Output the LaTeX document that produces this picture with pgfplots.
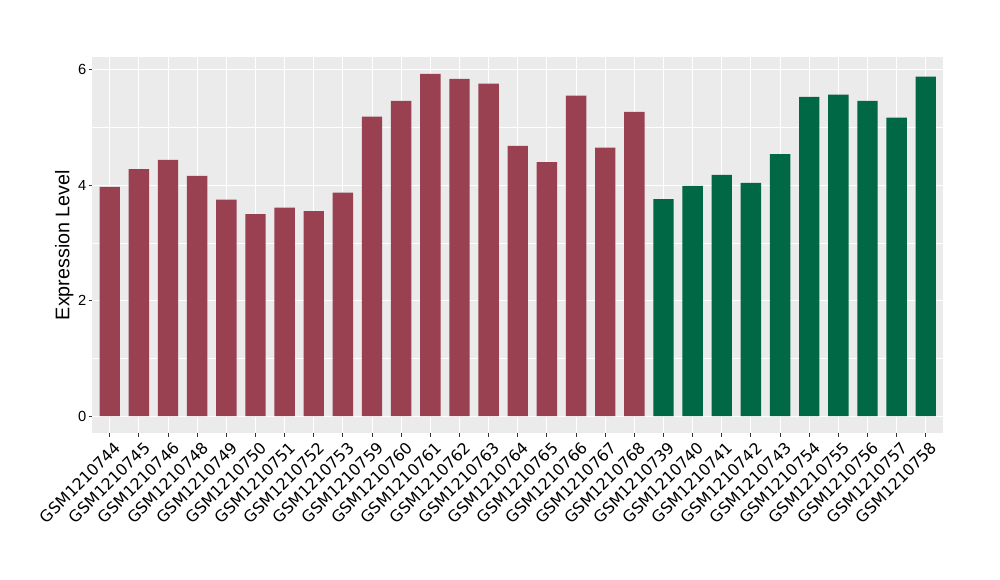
\documentclass[border=0pt]{standalone}
\usepackage{fontspec}
\setmainfont{Liberation Sans}
\newfontfamily\dejavu{DejaVu Sans}
\usepackage{pgfplots}
\pgfplotsset{compat=1.18}
\definecolor{panel}{RGB}{235,235,235}
\definecolor{barred}{RGB}{154,65,81}
\definecolor{bargreen}{RGB}{0,104,68}
\definecolor{tickc}{RGB}{51,51,51}
\begin{document}
\begin{tikzpicture}
\useasboundingbox (-69.2pt,-110pt) rectangle (680.8pt,325pt);
\begin{axis}[
  at={(0,0)}, anchor=south west,
  scale only axis, width=638.25pt, height=282.5pt,
  xmin=0.4, xmax=29.6, ymin=-0.2965, ymax=6.2265,
  axis background/.style={fill=panel},
  axis line style={draw=none},
  ybar, bar width=0.7, bar shift=0pt,
  xtick={1,...,29},
  xticklabels={GSM1210744,GSM1210745,GSM1210746,GSM1210748,GSM1210749,GSM1210750,GSM1210751,GSM1210752,GSM1210753,GSM1210759,GSM1210760,GSM1210761,GSM1210762,GSM1210763,GSM1210764,GSM1210765,GSM1210766,GSM1210767,GSM1210768,GSM1210739,GSM1210740,GSM1210741,GSM1210742,GSM1210743,GSM1210754,GSM1210755,GSM1210756,GSM1210757,GSM1210758},
  ytick={0,2,4,6}, minor ytick={1,3,5},
  grid=both,
  major grid style={white, line width=0.8pt},
  minor grid style={white, line width=0.4pt},
  tick align=outside, tick pos=left,
  major tick length=2.75pt, minor tick length=0pt,
  every tick/.style={tickc, line width=0.8pt},
  /pgf/number format/assume math mode=true,
  xticklabel style={xshift=3pt, yshift=-1pt, rotate=45, anchor=north east, font=\dejavu\fontsize{11.9}{13}\selectfont, inner sep=1pt, text=black},
  yticklabel style={font=\fontsize{11}{13}\selectfont, text=black, inner sep=1.5pt},
  ylabel={Expression Level},
  ylabel style={at={(axis description cs:-0.0329,0.5)}, anchor=center, font=\fontsize{14.8}{16}\selectfont},
]
\addplot[fill=barred, draw=none] coordinates {
(1,3.97) (2,4.28) (3,4.44) (4,4.16) (5,3.75) (6,3.50) (7,3.61) (8,3.55) (9,3.87)
(10,5.19) (11,5.46) (12,5.93) (13,5.84) (14,5.76) (15,4.68) (16,4.40) (17,5.55) (18,4.65) (19,5.27)
};
\addplot[fill=bargreen, draw=none] coordinates {
(20,3.76) (21,3.99) (22,4.18) (23,4.04) (24,4.54) (25,5.53) (26,5.57) (27,5.46) (28,5.17) (29,5.88)
};
\end{axis}
\end{tikzpicture}
\end{document}
